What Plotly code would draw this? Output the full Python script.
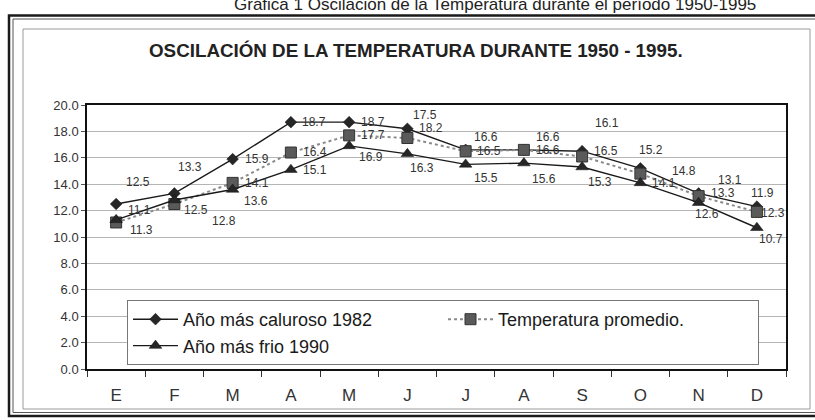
import plotly.graph_objects as go

# ---------------- data ----------------
months = ["E", "F", "M", "A", "M", "J", "J", "A", "S", "O", "N", "D"]
hot_1982 = [12.5, 13.3, 15.9, 18.7, 18.7, 18.2, 16.6, 16.6, 16.5, 15.2, 13.3, 12.3]
avg_temp = [11.1, 12.5, 14.1, 16.4, 17.7, 17.5, 16.5, 16.6, 16.1, 14.8, 13.1, 11.9]
cold_1990 = [11.3, 12.8, 13.6, 15.1, 16.9, 16.3, 15.5, 15.6, 15.3, 14.1, 12.6, 10.7]
y_ticks = [0, 2, 4, 6, 8, 10, 12, 14, 16, 18, 20]

names = ["Año más caluroso 1982", "Temperatura promedio.", "Año más frio 1990"]
title = "OSCILACIÓN DE LA TEMPERATURA DURANTE 1950 - 1995."
caption = "Gráfica 1 Oscilación de la Temperatura durante el período 1950-1995"

# label offsets (px, right / down) as placed in the original
hot_off = [(22, -22), (16, -26), (24, 0), (23, 0), (24, 0), (24, -1), (20, -13), (24, -13), (24, 0), (11, -18), (24, 0), (16, 6)]
avg_off = [(23, -12), (22, 6), (24, 0), (24, -1), (24, 0), (18, -23), (23, 0), (24, 0), (25, -33), (44, -3), (31, -16), (6, -19)]
cold_off = [(25, 10), (50, 21), (23, 12), (24, 0), (22, 11), (15, 14), (20, 14), (20, 16), (18, 15), (24, 0), (8, 11), (14, 11)]

W, H = 815, 420
L, R, T, B = 87, 29, 105, 51
PW, PH = W - L - R, H - T - B
FONT = "Liberation Sans, Arial, sans-serif"


def px(x):
    return (x - L) / PW


def py(y):
    return (H - B - y) / PH


xs = list(range(len(months)))

fig = go.Figure()
fig.add_trace(go.Scatter(
    x=xs, y=hot_1982, name=names[0], mode="lines+markers", legendwidth=252,
    line=dict(color="#1a1a1a", width=1.4),
    marker=dict(symbol="diamond", size=9, color="#262626", line=dict(width=0.5, color="#111")),
))
fig.add_trace(go.Scatter(
    x=xs, y=avg_temp, name=names[1], mode="lines+markers", legendwidth=255,
    line=dict(color="#8a8a8a", width=2, dash="dot"),
    marker=dict(symbol="square", size=11, color="#5a5a5a", line=dict(width=1, color="#333")),
))
fig.add_trace(go.Scatter(
    x=xs, y=cold_1990, name=names[2], mode="lines+markers", legendwidth=252,
    line=dict(color="#1a1a1a", width=1.4),
    marker=dict(symbol="triangle-up", size=11, color="#262626", line=dict(width=0.5, color="#111")),
))

annotations = []
for series, offs in ((hot_1982, hot_off), (avg_temp, avg_off), (cold_1990, cold_off)):
    for i, v in enumerate(series):
        dx, dy = offs[i]
        annotations.append(dict(
            x=i, y=v, xref="x", yref="y", text=f"{v:.1f}", showarrow=False,
            xshift=dx, yshift=-dy, font=dict(size=12, color="#333", family=FONT),
        ))

annotations.append(dict(
    x=px(416), y=py(51), xref="paper", yref="paper", text=f"<b>{title}</b>",
    showarrow=False, xanchor="center", yanchor="middle",
    font=dict(size=18.8, color="#222", family=FONT),
))
annotations.append(dict(
    x=px(495), y=py(4), xref="paper", yref="paper", text=caption,
    showarrow=False, xanchor="center", yanchor="middle",
    font=dict(size=17, color="#222", family=FONT),
))

shapes = [
    # outer double frame
    dict(type="rect", xref="paper", yref="paper", x0=px(9), x1=px(830), y0=py(416), y1=py(15.5),
         line=dict(color="#1a1a1a", width=2.5), layer="below"),
    dict(type="rect", xref="paper", yref="paper", x0=px(13), x1=px(830), y0=py(412.5), y1=py(19),
         line=dict(color="#555", width=1), layer="below"),
    # inner chart-area frame
    dict(type="rect", xref="paper", yref="paper", x0=px(23), x1=px(810), y0=py(409), y1=py(29),
         line=dict(color="#9a9a9a", width=1), layer="below"),
]

fig.update_layout(
    width=W, height=H,
    margin=dict(l=L, r=R, t=T, b=B),
    paper_bgcolor="white", plot_bgcolor="white",
    font=dict(family=FONT, color="#222"),
    showlegend=True,
    legend=dict(
        orientation="h", x=px(127), xanchor="left", y=py(365), yanchor="bottom",
        bgcolor="white", bordercolor="#777", borderwidth=1,
        font=dict(size=18, color="#1a1a1a", family=FONT),
        itemwidth=45, entrywidthmode="pixels", traceorder="normal",
    ),
    annotations=annotations,
    shapes=shapes,
    xaxis=dict(
        range=[-0.5, len(months) - 0.5], tickmode="array", tickvals=xs, ticktext=months,
        ticks="", showgrid=False, zeroline=False,
        showline=True, linecolor="#111", linewidth=1.5, mirror=True,
        tickfont=dict(size=17, color="#333", family=FONT),
        ticklabelstandoff=10,
        minor=dict(tickmode="array", tickvals=[i - 0.5 for i in range(len(months) + 1)],
                   ticks="outside", ticklen=6, tickcolor="#333", showgrid=False),
    ),
    yaxis=dict(
        range=[0, 20], tickmode="array", tickvals=y_ticks, tickformat=".1f",
        ticks="outside", ticklen=4, tickcolor="#555",
        showgrid=True, gridcolor="#b5b5b5", gridwidth=1, zeroline=False,
        showline=True, linecolor="#111", linewidth=1.5, mirror=True,
        tickfont=dict(size=13, color="#333", family=FONT),
    ),
)

fig.write_html(
    "out.html",
    config={"displayModeBar": False},
    post_script="document.body.style.margin='0';document.body.style.overflow='hidden';",
)
